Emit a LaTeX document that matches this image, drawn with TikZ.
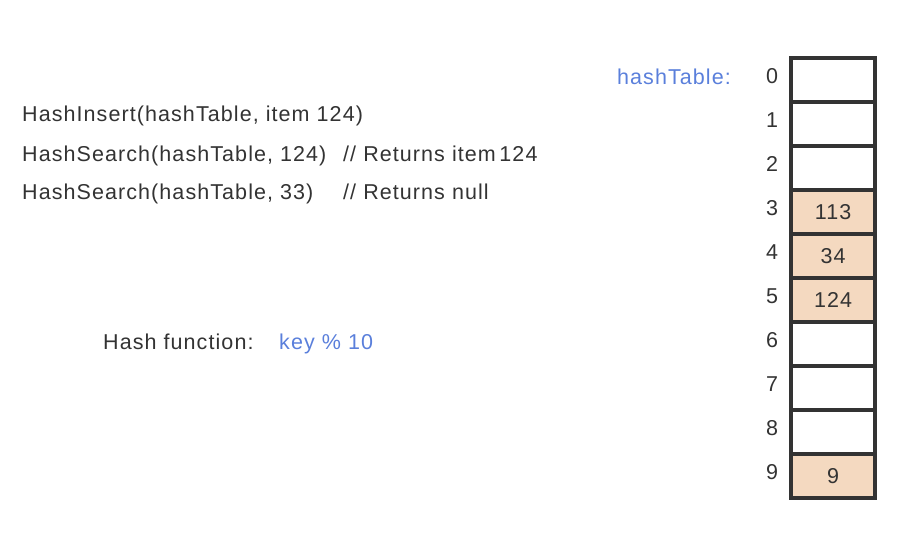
\documentclass[tikz,border=0pt]{standalone}
\usepackage{fontspec}
\setmainfont{Liberation Sans}[LetterSpace=5]
\definecolor{keyblue}{RGB}{90,127,219}
\definecolor{itemfill}{RGB}{244,217,192}
\definecolor{inkgray}{RGB}{51,51,51}
\tikzset{
  every node/.style={font=\fontsize{21.5}{25}\selectfont, text=inkgray, inner sep=0pt},
  slot/.style={draw=inkgray, line width=3.5pt, minimum width=84pt, minimum height=44pt, outer sep=0pt},
  used/.style={slot, fill=itemfill},
  code/.style={anchor=base west},
}
\begin{document}
\begin{tikzpicture}[x=1pt,y=1pt]
\useasboundingbox (0,0) rectangle (910,538);
\foreach \r/\v/\s in {0//slot,1//slot,2//slot,3/113/used,4/34/used,5/124/used,6//slot,7//slot,8//slot,9/9/used} {
  \node (c\r) [\s] at (833.2,458-44*\r) {\v};
  \node (i\r) [anchor=base] at (772,454-44*\r) {\r};
}
\node (tname) [anchor=base east, text=keyblue] at (731,453) {hashTable:};
\node (insert) [code] at (22,416) {HashInsert(hashTable, item 124)};
\node (found) [code] at (22,376.7) {HashSearch(hashTable, 124)};
\node (foundnote) [code] at (343,376.7) {// Returns item\,124};
\node (miss) [code] at (22,338) {HashSearch(hashTable, 33)};
\node (missnote) [code] at (343,338) {// Returns null};
\node (hfunc) [code] at (103,188.5) {Hash function:};
\node (hkey) [code, text=keyblue] at (279,188.5) {key \% 10};
\end{tikzpicture}
\end{document}
